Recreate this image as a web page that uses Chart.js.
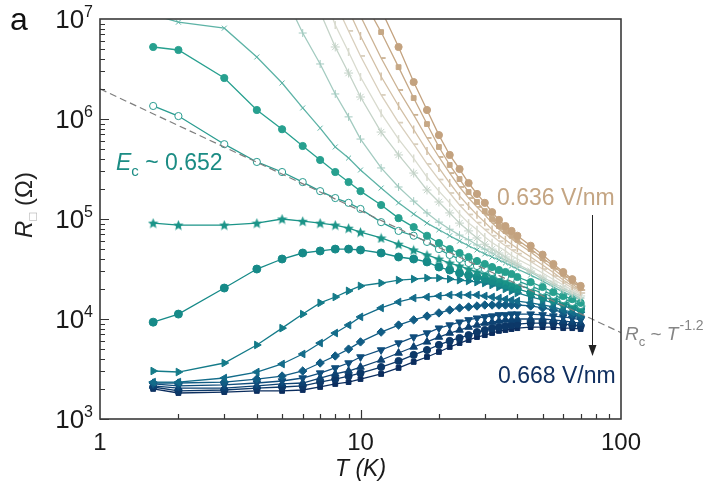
<!DOCTYPE html>
<html><head><meta charset="utf-8">
<script src="https://cdn.jsdelivr.net/npm/chart.js@4.4.1/dist/chart.umd.min.js"></script>
<style>html,body{margin:0;padding:0;background:#fff}#wrap{width:721px;height:500px}</style>
</head><body><div id="wrap"><canvas id="c" width="721" height="500"></canvas></div>
<script>
// ---- data ----
const temperatures = [1.6,2,3,4,5,6,7,8,9,10,12,14,16,18,20,22,24,26,28,30,32,34,36,38,40,45,50,55,60,65,70];
const yTickValues = [1e3,1e4,1e5,1e6,1e7];
const xTickLabels = [1,10,100];
const guideT = [1,100];
const guideR = [2.0e6,7.3e3];

const r636 = [null,null,null,null,null,null,null,null,null,null,1.24e7,5.25e6,2.34e6,1.23e6,6.9e5,4.37e5,3.16e5,2.29e5,1.78e5,1.45e5,1.17e5,9.8e4,8.5e4,7.6e4,6.8e4,5.4e4,4.4e4,3.55e4,2.95e4,2.5e4,2.14e4];
const r638 = [null,null,null,null,null,null,null,null,null,1.74e7,7.4e6,3.3e6,1.62e6,8.9e5,5.25e5,3.47e5,2.51e5,1.86e5,1.48e5,1.2e5,1.0e5,8.5e4,7.6e4,6.8e4,6.2e4,5.0e4,4.07e4,3.39e4,2.82e4,2.4e4,2.04e4];
const r640 = [null,null,null,null,null,null,null,null,null,1.07e7,4.07e6,1.95e6,1.1e6,6.46e5,4.17e5,2.88e5,2.09e5,1.62e5,1.32e5,1.1e5,9.1e4,7.9e4,7.1e4,6.3e4,5.75e4,4.68e4,3.8e4,3.16e4,2.63e4,2.24e4,1.95e4];
const r642 = [null,null,null,null,null,null,null,null,1.23e7,6.76e6,2.66e6,1.35e6,7.85e5,4.79e5,3.24e5,2.29e5,1.7e5,1.35e5,1.1e5,9.3e4,7.85e4,6.9e4,6.2e4,5.6e4,5.1e4,4.17e4,3.47e4,2.92e4,2.45e4,2.14e4,1.88e4];
const r644 = [null,null,null,null,null,null,null,1.45e7,7.6e6,4.27e6,1.74e6,9.2e5,5.6e5,3.55e5,2.48e5,1.82e5,1.38e5,1.11e5,9.2e4,7.85e4,6.8e4,6.0e4,5.4e4,4.9e4,4.5e4,3.76e4,3.16e4,2.69e4,2.32e4,2.04e4,1.82e4];
const r646 = [null,null,null,null,null,null,2.2e7,8.7e6,4.68e6,2.63e6,1.14e6,6.3e5,4.03e5,2.63e5,1.9e5,1.45e5,1.12e5,9.1e4,7.8e4,6.6e4,5.8e4,5.25e4,4.8e4,4.3e4,3.98e4,3.39e4,2.88e4,2.48e4,2.19e4,1.95e4,1.76e4];
const r648 = [null,null,null,null,null,null,1.17e7,5.25e6,2.88e6,1.66e6,7.4e5,4.37e5,2.88e5,1.95e5,1.48e5,1.15e5,9.1e4,7.6e4,6.46e4,5.6e4,5.0e4,4.57e4,4.17e4,3.8e4,3.55e4,3.02e4,2.63e4,2.29e4,2.04e4,1.86e4,1.7e4];
const r650 = [null,null,null,null,1.95e7,7.24e6,3.55e6,1.78e6,1.05e6,6.3e5,3.24e5,2.09e5,1.51e5,1.15e5,9.3e4,7.9e4,6.9e4,6.2e4,5.5e4,5.0e4,4.57e4,4.17e4,3.89e4,3.63e4,3.39e4,2.95e4,2.51e4,2.19e4,1.95e4,1.78e4,1.62e4];
const r651 = [1.1e7,9.3e6,8.1e6,4.17e6,2.29e6,1.29e6,8.1e5,5.25e5,4.07e5,3.09e5,2.04e5,1.45e5,1.12e5,9.1e4,7.8e4,6.8e4,6.0e4,5.4e4,4.9e4,4.47e4,4.17e4,3.89e4,3.63e4,3.39e4,3.16e4,2.75e4,2.4e4,2.09e4,1.86e4,1.7e4,1.55e4];
const r652a = [5.25e6,4.9e6,2.57e6,1.23e6,7.9e5,5.37e5,3.89e5,2.95e5,2.34e5,1.9e5,1.38e5,1.02e5,8.3e4,6.8e4,5.75e4,5.0e4,4.57e4,4.17e4,3.8e4,3.55e4,3.31e4,3.09e4,2.95e4,2.82e4,2.63e4,2.34e4,2.09e4,1.86e4,1.7e4,1.58e4,1.45e4];
const r652 = [1.35e6,1.07e6,5.6e5,3.72e5,2.95e5,2.34e5,1.9e5,1.62e5,1.45e5,1.26e5,9.3e4,7.6e4,6.8e4,5.9e4,5.0e4,4.37e4,3.98e4,3.63e4,3.39e4,3.16e4,2.95e4,2.75e4,2.63e4,2.51e4,2.4e4,2.14e4,1.91e4,1.74e4,1.58e4,1.48e4,1.38e4];
const r654 = [9.1e4,8.7e4,8.7e4,9.1e4,1.0e5,9.5e4,9.1e4,8.7e4,8.1e4,7.4e4,6.46e4,5.6e4,4.9e4,4.37e4,3.98e4,3.63e4,3.39e4,3.16e4,2.95e4,2.82e4,2.69e4,2.51e4,2.4e4,2.29e4,2.19e4,2.0e4,1.82e4,1.66e4,1.51e4,1.41e4,1.32e4];
const r656 = [9.3e3,1.12e4,2.04e4,3.16e4,3.98e4,4.57e4,4.79e4,5.0e4,5.0e4,4.9e4,4.57e4,4.17e4,3.98e4,3.72e4,3.31e4,3.09e4,2.88e4,2.75e4,2.63e4,2.51e4,2.4e4,2.29e4,2.19e4,2.09e4,2.0e4,1.82e4,1.66e4,1.55e4,1.45e4,1.35e4,1.26e4];
const r658 = [3.02e3,2.95e3,3.63e3,5.5e3,8.1e3,1.12e4,1.45e4,1.66e4,1.91e4,2.14e4,2.29e4,2.45e4,2.51e4,2.57e4,2.57e4,2.51e4,2.45e4,2.4e4,2.34e4,2.29e4,2.19e4,2.09e4,2.0e4,1.91e4,1.82e4,1.66e4,1.55e4,1.45e4,1.35e4,1.26e4,1.17e4];
const r660 = [2.34e3,2.34e3,2.57e3,2.95e3,3.55e3,4.47e3,5.75e3,7.24e3,8.7e3,1.05e4,1.29e4,1.48e4,1.62e4,1.66e4,1.7e4,1.74e4,1.74e4,1.74e4,1.74e4,1.7e4,1.66e4,1.62e4,1.58e4,1.55e4,1.51e4,1.45e4,1.38e4,1.32e4,1.23e4,1.17e4,1.1e4];
const r662 = [2.29e3,2.29e3,2.34e3,2.51e3,2.69e3,3.02e3,3.63e3,4.27e3,5.0e3,5.9e3,7.4e3,8.7e3,9.8e3,1.07e4,1.15e4,1.23e4,1.29e4,1.32e4,1.35e4,1.38e4,1.38e4,1.38e4,1.38e4,1.38e4,1.38e4,1.35e4,1.29e4,1.23e4,1.17e4,1.12e4,1.05e4];
const r664 = [2.24e3,2.14e3,2.19e3,2.29e3,2.4e3,2.57e3,2.88e3,3.24e3,3.63e3,4.17e3,4.9e3,5.75e3,6.6e3,7.24e3,8.1e3,8.7e3,9.3e3,9.8e3,1.02e4,1.05e4,1.07e4,1.1e4,1.1e4,1.12e4,1.12e4,1.12e4,1.1e4,1.07e4,1.05e4,1.02e4,9.8e3];
const r666 = [2.14e3,2.04e3,2.04e3,2.14e3,2.24e3,2.29e3,2.57e3,2.82e3,3.02e3,3.31e3,3.89e3,4.57e3,5.25e3,5.9e3,6.6e3,7.24e3,7.76e3,8.3e3,8.7e3,9.1e3,9.3e3,9.55e3,9.8e3,9.8e3,1.0e4,1.0e4,1.0e4,9.8e3,9.55e3,9.3e3,9.1e3];
const r667 = [2.09e3,1.91e3,1.95e3,2.04e3,2.09e3,2.14e3,2.34e3,2.51e3,2.69e3,2.88e3,3.31e3,3.8e3,4.37e3,4.9e3,5.5e3,6.03e3,6.46e3,6.9e3,7.4e3,7.76e3,8.1e3,8.3e3,8.5e3,8.7e3,8.9e3,9.1e3,9.1e3,9.1e3,8.9e3,8.7e3,8.5e3];
const r668 = [2.0e3,1.82e3,1.86e3,1.91e3,1.91e3,1.95e3,2.09e3,2.24e3,2.34e3,2.51e3,2.82e3,3.24e3,3.72e3,4.17e3,4.68e3,5.25e3,5.75e3,6.17e3,6.6e3,6.9e3,7.24e3,7.6e3,7.76e3,7.94e3,8.1e3,8.3e3,8.3e3,8.3e3,8.1e3,8.1e3,7.94e3];

// ---- styling ----
const FONT = '"Liberation Sans", Arial, Helvetica, sans-serif';

function starImage(color, size){
  const cv = document.createElement('canvas'); cv.width = size; cv.height = size;
  const c = cv.getContext('2d'); const cx=size/2, cy=size/2+0.5, R=size/2, r=R*0.45;
  c.beginPath();
  for (let i=0;i<10;i++){ const ang=-Math.PI/2+i*Math.PI/5; const rr=i%2?r:R; const px=cx+rr*Math.cos(ang), py=cy+rr*Math.sin(ang); i?c.lineTo(px,py):c.moveTo(px,py);} 
  c.closePath(); c.fillStyle=color; c.fill();
  return cv;
}

const seriesDefs = [
  {d:r636, c:'#c3a27f', ps:'circle', r:3.6},
  {d:r638, c:'#c6a886', ps:'rect', r:3.4},
  {d:r640, c:'#cbb293', ps:'dash', r:4.5, bw:1.8},
  {d:r642, c:'#d2bfa5', ps:'line', r:4, rot:90, bw:1.5},
  {d:r644, c:'#d9cfbd', ps:'dash', r:4.5, bw:1.8},
  {d:r646, c:'#d9dbcf', ps:'line', r:4, rot:90, bw:1.5},
  {d:r648, c:'#c4d3c8', ps:'star', r:4.5, bw:1},
  {d:r650, c:'#a3cbc0', ps:'cross', r:4, bw:1},
  {d:r651, c:'#5db3a6', ps:'crossRot', r:3.5, bw:1},
  {d:r652a, c:'#27a08f', ps:'circle', r:3.6},
  {d:r652, c:'#2a9c90', ps:'circle', r:3.6, open:true},
  {d:r654, c:'#1b9488', ps:'starImg', r:5},
  {d:r656, c:'#168a88', ps:'circle', r:4},
  {d:r658, c:'#147b89', ps:'triangle', r:4.4, rot:90},
  {d:r660, c:'#136c8a', ps:'triangle', r:4.4, rot:-90},
  {d:r662, c:'#115c84', ps:'rectRot', r:4.2},
  {d:r664, c:'#0f4d7c', ps:'triangle', r:4.4, rot:180},
  {d:r666, c:'#0d4272', ps:'triangle', r:4.4},
  {d:r667, c:'#0c3868', ps:'circle', r:3.6},
  {d:r668, c:'#0b2d5e', ps:'rect', r:3.4}
];

const datasets = [{
  data: guideT.map((t,i)=>({x:t, y:guideR[i]})),
  borderColor:'#7e7e7e', borderWidth:1.2, borderDash:[7,4], pointRadius:0, clip:0
}];
seriesDefs.forEach(s=>{
  datasets.push({
    data: temperatures.map((t,i)=>({x:t, y:s.d[i]})),
    borderColor:s.c, borderWidth:1.3,
    pointStyle: s.ps==='starImg' ? starImage(s.c, 11) : s.ps,
    pointRadius:s.r, pointRotation:s.rot||0,
    pointBackgroundColor: s.open ? '#ffffff' : s.c,
    pointBorderColor:s.c, pointBorderWidth:s.bw||1,
    spanGaps:false, clip:0, tension:0
  });
});

function drawParts(ctx, x, y, parts){
  parts.forEach(p=>{
    ctx.font = p.f; ctx.fillStyle = p.col;
    ctx.fillText(p.t, x, y + (p.dy||0));
    x += ctx.measureText(p.t).width + (p.gap||0);
  });
  return x;
}

const decor = {
  id:'decor',
  afterDraw(chart){
    const ctx = chart.ctx, xs = chart.scales.x, ys = chart.scales.y, a = chart.chartArea;
    ctx.save();
    // inward tick marks
    ctx.strokeStyle = '#333'; ctx.lineWidth = 1.2; ctx.beginPath();
    for (let d=3; d<7; d++) for (let m=1; m<10; m++){
      const v = m*Math.pow(10,d); const py = Math.round(ys.getPixelForValue(v))+0.5; const len = m===1?9:5;
      ctx.moveTo(a.left, py); ctx.lineTo(a.left+len, py);
    }
    for (let d=0; d<2; d++) for (let m=1; m<10; m++){
      const v = m*Math.pow(10,d); if (v<=1) continue;
      const px = Math.round(xs.getPixelForValue(v))+0.5; const len = m===1?9:5;
      ctx.moveTo(px, a.bottom); ctx.lineTo(px, a.bottom-len);
    }
    ctx.stroke();
    // frame
    ctx.lineWidth = 1.6; ctx.strokeStyle = '#3a3a3a';
    ctx.strokeRect(a.left, a.top, a.right-a.left, a.bottom-a.top);
    // y tick labels 10^n
    ctx.textBaseline = 'alphabetic'; ctx.textAlign = 'left'; ctx.fillStyle = '#1a1a1a';
    yTickValues.forEach(v=>{
      const py = ys.getPixelForValue(v); const e = String(Math.round(Math.log10(v)));
      ctx.font = '16px '+FONT; const sw = ctx.measureText(e).width;
      ctx.font = '26px '+FONT; const bw = ctx.measureText('10').width;
      const end = 93;
      ctx.fillText('10', end - sw - bw, py + 9);
      ctx.font = '16px '+FONT; ctx.fillText(e, end - sw, py - 2);
    });
    // y axis title (rotated)
    ctx.save();
    ctx.translate(32, 205); ctx.rotate(-Math.PI/2);
    ctx.font = 'italic 24px '+FONT; const wR = ctx.measureText('R').width;
    ctx.font = '13px '+FONT; const wB = ctx.measureText('\u25A1').width;
    ctx.font = '24px '+FONT; const wO = ctx.measureText(' (\u03A9)').width;
    let x0 = -(wR+wB+wO)/2;
    ctx.font = 'italic 24px '+FONT; ctx.fillStyle = '#222'; ctx.fillText('R', x0, 0); x0 += wR;
    ctx.font = '13px '+FONT; ctx.fillStyle = '#aaaaaa'; ctx.fillText('\u25A1', x0, 5); x0 += wB;
    ctx.font = '24px '+FONT; ctx.fillStyle = '#222'; ctx.fillText(' (\u03A9)', x0, 0);
    ctx.restore();
    // panel letter
    ctx.font = '32px '+FONT; ctx.fillStyle = '#111'; ctx.fillText('a', 10, 30);
    // E_c label
    const teal = '#1b8c84';
    drawParts(ctx, 116, 170, [
      {t:'E', f:'italic 23px '+FONT, col:teal},
      {t:'c', f:'15px '+FONT, col:teal, dy:6},
      {t:' ~ 0.652', f:'23px '+FONT, col:teal}
    ]);
    // field labels
    ctx.font = '23px '+FONT; ctx.fillStyle = '#c4a583'; ctx.fillText('0.636 V/nm', 497, 205);
    ctx.fillStyle = '#102f60'; ctx.fillText('0.668 V/nm', 498, 383);
    // arrow
    ctx.strokeStyle = '#222'; ctx.lineWidth = 1; ctx.beginPath();
    ctx.moveTo(592.5, 215); ctx.lineTo(592.5, 348); ctx.stroke();
    ctx.fillStyle = '#222'; ctx.beginPath(); ctx.moveTo(588.5, 345); ctx.lineTo(596.5, 345); ctx.lineTo(592.5, 356); ctx.closePath(); ctx.fill();
    // R_c ~ T^-1.2
    const gray = '#858585';
    drawParts(ctx, 625, 340, [
      {t:'R', f:'italic 19px '+FONT, col:gray},
      {t:'c', f:'13px '+FONT, col:gray, dy:6},
      {t:' ~ ', f:'19px '+FONT, col:gray},
      {t:'T', f:'italic 19px '+FONT, col:gray, gap:1},
      {t:'-1.2', f:'14px '+FONT, col:gray, dy:-10}
    ]);
    ctx.restore();
  }
};

new Chart(document.getElementById('c'), {
  type:'line',
  data:{datasets},
  options:{
    responsive:false, animation:false, devicePixelRatio:1,
    layout:{padding:{left:0, right:100, top:19, bottom:0}},
    plugins:{legend:{display:false}, tooltip:{enabled:false}},
    scales:{
      x:{type:'logarithmic', min:1, max:100,
        afterFit(s){ s.height = 81; },
        grid:{display:false}, border:{display:false},
        ticks:{autoSkip:false, maxRotation:0, padding:2, color:'#1a1a1a', font:{family:FONT, size:24},
          callback:(v)=> xTickLabels.includes(v) ? String(v) : ''},
        title:{display:true, text:'T (K)', color:'#1a1a1a', font:{family:FONT, size:23, style:'italic'}, padding:{top:0, bottom:17}}
      },
      y:{type:'logarithmic', min:1e3, max:1e7,
        afterFit(s){ s.width = 100; },
        grid:{display:false}, border:{display:false},
        ticks:{display:false}
      }
    }
  },
  plugins:[decor]
});
</script></body></html>
